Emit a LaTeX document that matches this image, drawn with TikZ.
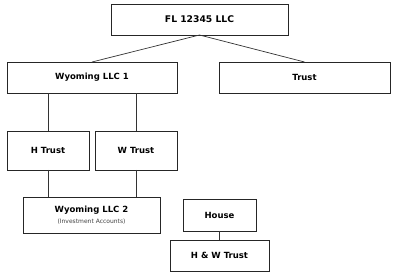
\documentclass[tikz,border=0pt]{standalone}
\usepackage{fontspec}
\setmainfont{DejaVu Sans}
\usepackage{xcolor}
\usepackage{tikz}
\usetikzlibrary{positioning}

\begin{document}
\begin{tikzpicture}[x=1pt, y=1pt, node distance=27pt and 6pt,
  every node/.style={font=\fontsize{8.5}{10}\selectfont\bfseries},
  box/.style={draw=black!85, line width=0.9pt, align=center, inner sep=0pt, outer sep=0pt, minimum height=31pt},
  link/.style={draw=black!80, line width=0.7pt}]
\useasboundingbox (0,0) rectangle (400,-275);
\node[box, minimum width=177pt, font=\fontsize{9.2}{11}\selectfont\bfseries] (fl) at (199.5,-19.5) {FL 12345 LLC};
\node[box, minimum width=170pt, below=27pt of fl, xshift=-107.5pt] (wy1) {Wyoming LLC 1};
\node[box, minimum width=171pt, right=42pt of wy1] (trust) {Trust};
\node[box, minimum width=82pt, minimum height=39pt, below=38pt of wy1.south west, anchor=north west] (htrust) {H Trust};
\node[box, minimum width=82pt, minimum height=39pt, right=of htrust] (wtrust) {W Trust};
\node[box, minimum width=137pt, minimum height=36pt, below=of htrust, xshift=43.5pt] (wy2) {Wyoming LLC 2\\[1pt]{\fontsize{6}{7}\selectfont\mdseries\color{black!75}(Investment Accounts)}};
\node[box, minimum width=73pt, minimum height=32pt, right=23pt of wy2] (house) {House};
\node[box, minimum width=99pt, below=9pt of house] (hw) {H \& W Trust};
% connectors
\draw[link] (fl.south) -- (wy1.north);
\draw[link] (fl.south) -- (trust.north);
\draw[link] (htrust.north) -- (htrust.north |- wy1.south);
\draw[link] (wtrust.north) -- (wtrust.north |- wy1.south);
\draw[link] (htrust.south) -- (htrust.south |- wy2.north);
\draw[link] (wtrust.south) -- (wtrust.south |- wy2.north);
\draw[link] (house.south) -- (hw.north);
\end{tikzpicture}
\end{document}
